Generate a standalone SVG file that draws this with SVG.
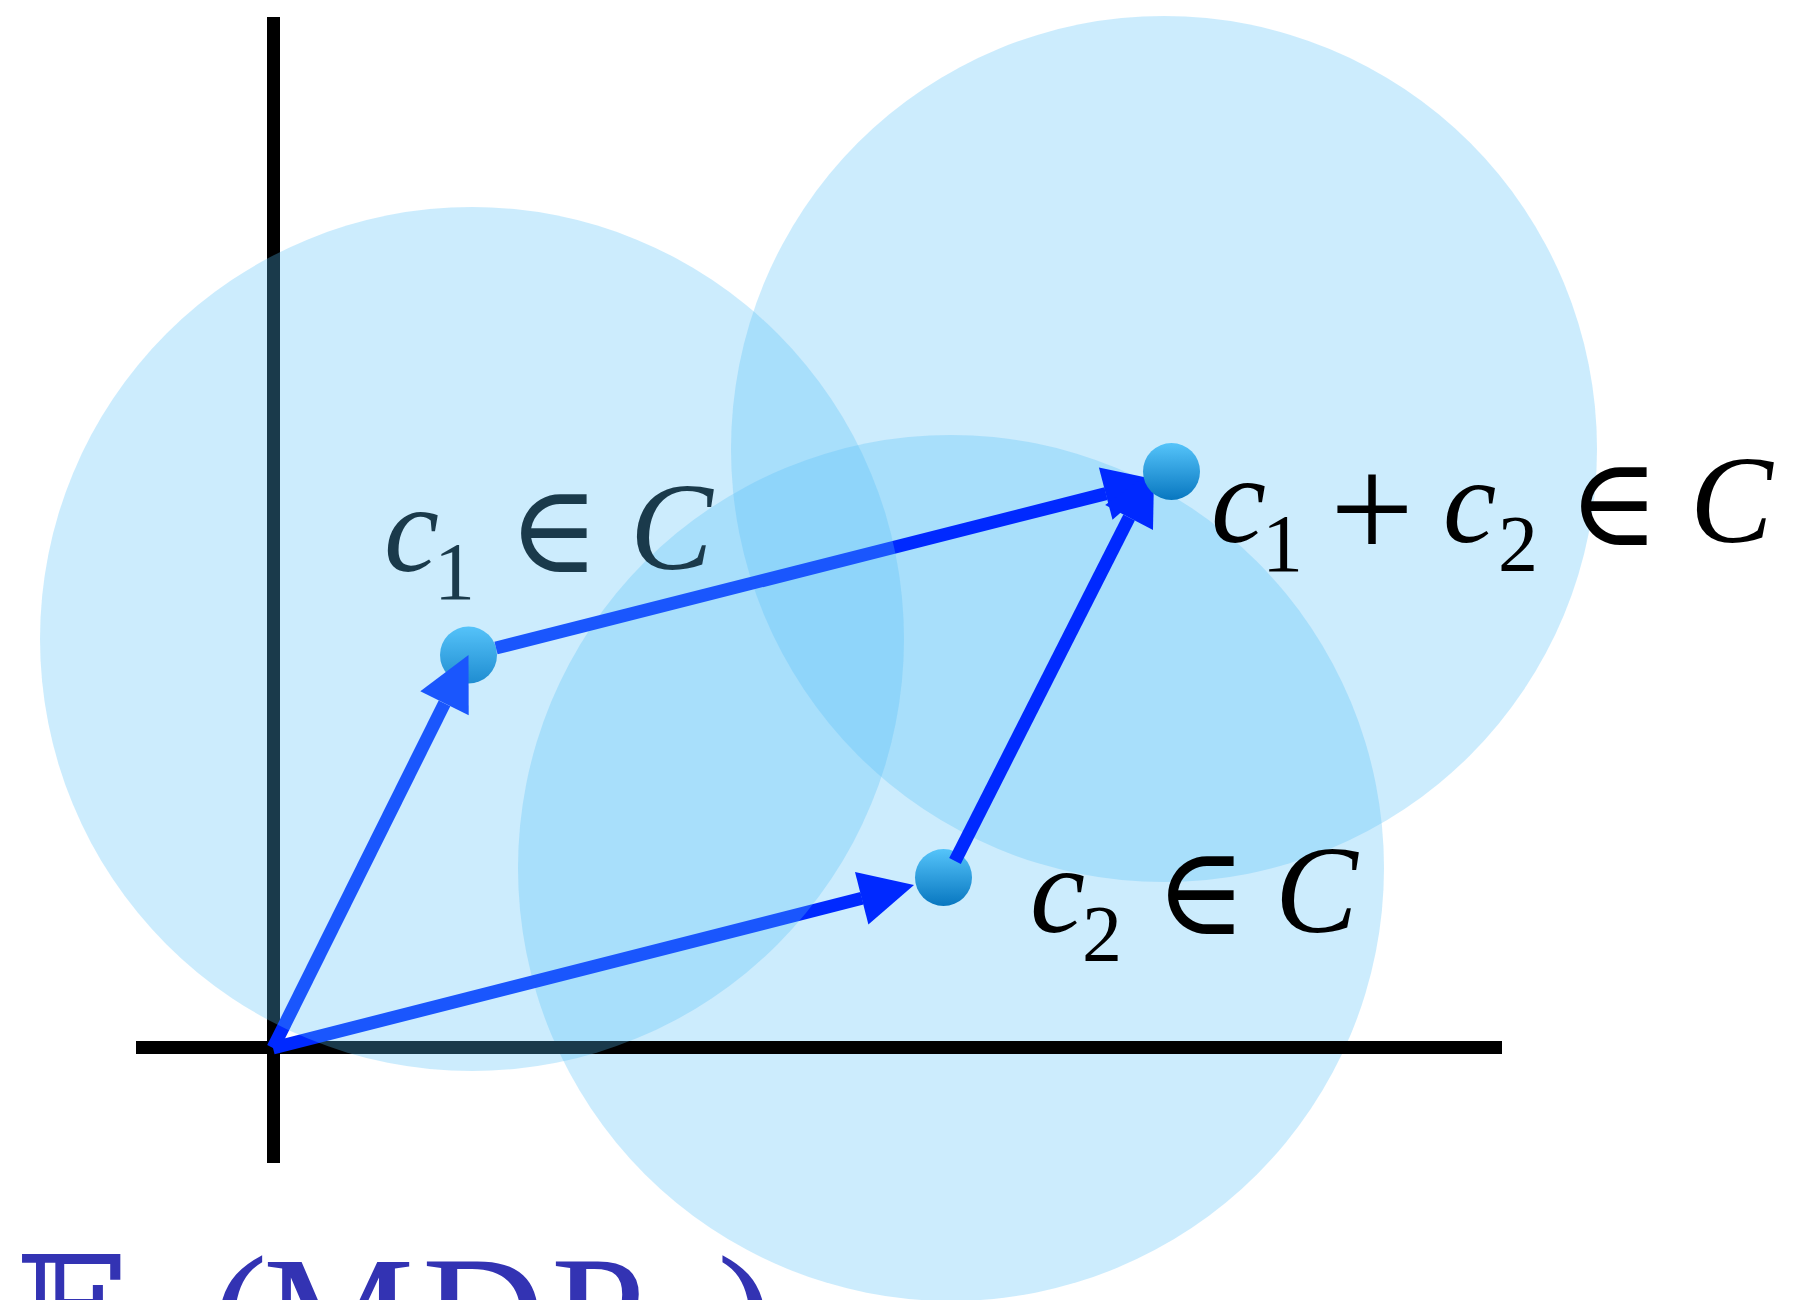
<svg xmlns="http://www.w3.org/2000/svg" width="1814" height="1300" viewBox="0 0 1814 1300">
<style>
.region{fill:#57c1f7;fill-opacity:0.3}
.axis{stroke:#000;stroke-width:13;fill:none}
.edge{stroke:#0029ff;stroke-width:13;fill:none}
.head{fill:#0029ff}
.dot{fill:url(#dotGrad)}
.it{font-family:"Liberation Serif","Times New Roman",serif;font-style:italic;fill:#000}
.rm{font-family:"Liberation Serif","Times New Roman",serif;fill:#000}
.sym{font-family:"DejaVu Serif",serif;fill:#000}
.cap{font-family:"Liberation Serif","Times New Roman",serif;fill:#3333b3}
</style>
<defs>
<linearGradient id="dotGrad" x1="0" y1="0" x2="0" y2="1">
<stop offset="0" stop-color="#55c4fa"/>
<stop offset="1" stop-color="#0877c0"/>
</linearGradient>
</defs>
<rect width="1814" height="1300" fill="#fff"/>
<g id="region-c1c2"><circle class="region" cx="1164" cy="449" r="433"/></g>
<g id="region-c2"><circle class="region" cx="951" cy="868" r="433"/></g>
<g id="axes">
<line class="axis" x1="136" y1="1047.5" x2="1502" y2="1047.5"/>
<line class="axis" x1="273.5" y1="17" x2="273.5" y2="1163"/>
</g>
<g id="point-c1"><circle class="dot" cx="468.5" cy="655" r="28.5"/></g>
<g id="point-c2"><circle class="dot" cx="943.5" cy="877.5" r="28.5"/></g>
<g id="connectors">
<line class="edge" x1="496" y1="648" x2="1106" y2="493.6"/>
<polygon class="head" points="1158,480 1112.5,519.7 1098.9,467.5"/>
<line class="edge" x1="273" y1="1048" x2="444.5" y2="703.3"/>
<polygon class="head" points="468.5,655 468.7,715.3 420.3,691.3"/>
<line class="edge" x1="273" y1="1048" x2="862" y2="898.3"/>
<polygon class="head" points="914,885 868.4,924.5 855,872.1"/>
<line class="edge" x1="955" y1="861" x2="1129.1" y2="517.5"/>
<polygon class="head" points="1154.1,469.6 1153,530 1105.2,505"/>
</g>
<g id="point-c1c2"><circle class="dot" cx="1171.5" cy="471.5" r="28.5"/></g>
<g id="label-c1">
<text class="it" x="384" y="571" font-size="124">c</text>
<text class="rm" x="434" y="599" font-size="82">1</text>
<text class="sym" x="508" y="572" font-size="124">∈</text>
<text class="it" x="630" y="569" font-size="124">C</text>
</g>
<g id="label-c2">
<text class="it" x="1030" y="932" font-size="124">c</text>
<text class="rm" x="1082" y="961" font-size="80">2</text>
<text class="sym" x="1155" y="934" font-size="124">∈</text>
<text class="it" x="1275" y="932" font-size="124">C</text>
</g>
<g id="label-c1c2">
<text class="it" x="1211" y="542" font-size="124">c</text>
<text class="rm" x="1262" y="571" font-size="82">1</text>
<text class="rm" x="1330" y="559" font-size="149">+</text>
<text class="it" x="1443" y="542" font-size="120">c</text>
<text class="rm" x="1498" y="571" font-size="80">2</text>
<text class="sym" x="1568" y="545" font-size="124">∈</text>
<text class="it" x="1690" y="542" font-size="124">C</text>
</g>
<g id="region-c1"><circle class="region" cx="472" cy="639" r="432"/></g>
<g id="caption">
<text font-family="'DejaVu Serif', serif" x="15" y="1363" font-size="150" fill="#3333b3">𝔼</text>
<text class="cap" y="1373" font-size="170"><tspan x="211">(</tspan><tspan x="263">M</tspan><tspan x="422">D</tspan><tspan x="551">P</tspan><tspan x="717">)</tspan></text>
</g>
</svg>
